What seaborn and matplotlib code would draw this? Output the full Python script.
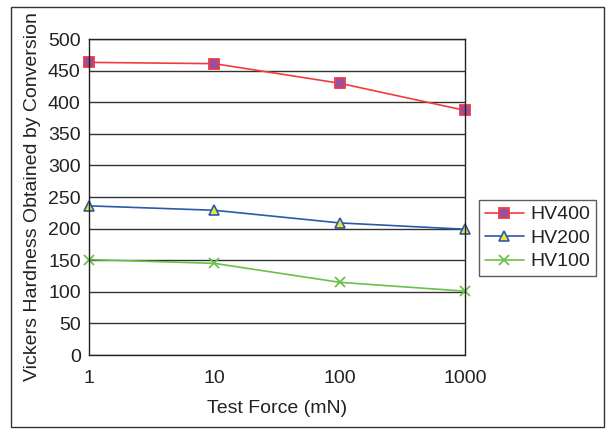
import matplotlib
matplotlib.use("Agg")
import matplotlib.pyplot as plt
import seaborn as sns
import pandas as pd
from matplotlib.patches import Rectangle

forces = [1, 10, 100, 1000]
hv400 = [463, 461, 430, 387]
hv200 = [236, 229, 209, 199]
hv100 = [151, 145, 115, 101]
series_names = ["HV400", "HV200", "HV100"]
yticks = [0, 50, 100, 150, 200, 250, 300, 350, 400, 450, 500]
xtick_labels = ["1", "10", "100", "1000"]

df = pd.DataFrame({
    "force": forces * 3,
    "hv": hv400 + hv200 + hv100,
    "series": [series_names[0]] * 4 + [series_names[1]] * 4 + [series_names[2]] * 4,
})

sns.set_theme(style="white")
plt.rcParams["font.family"] = ["Liberation Sans", "DejaVu Sans"]

fig = plt.figure(figsize=(6.08, 4.34), dpi=100)
ax = fig.add_axes([89 / 608, 79 / 434, 376 / 608, 316 / 434])

styles = {
    "HV400": dict(color="#f03c3c", marker="s", mfc="#9a4f9e", mec="#ee3b48", ms=6.5, mew=1.3),
    "HV200": dict(color="#2b5aa8", marker="^", mfc="#e8e83a", mec="#2b5aa8", ms=7.5, mew=1.2),
    "HV100": dict(color="#6cc04a", marker="x", mfc="#6cc04a", mec="#6cc04a", ms=7, mew=1.3),
}

for name in series_names:
    sub = df[df["series"] == name]
    st = styles[name]
    sns.lineplot(data=sub, x="force", y="hv", ax=ax, color=st["color"], lw=1.2,
                 marker=st["marker"], markerfacecolor=st["mfc"], markeredgecolor=st["mec"],
                 markersize=st["ms"], markeredgewidth=st["mew"], label=name, clip_on=False)

ax.set_xscale("log")
ax.set_xlim(1, 1000)
ax.set_ylim(0, 500)
ax.set_yticks(yticks)
ax.set_yticklabels([str(v) for v in yticks])
ax.set_xticks(forces)
ax.set_xticklabels(xtick_labels)
ax.minorticks_off()
ax.yaxis.grid(True, color="#333333", lw=1.0)
ax.set_axisbelow(True)
for s in ax.spines.values():
    s.set_color("#222222")
    s.set_linewidth(1.0)
ax.tick_params(axis="x", direction="out", length=4, width=0.8, color="#222222", labelsize=14, pad=7, labelcolor="#222222")
ax.tick_params(axis="y", length=0, labelsize=14, pad=6, labelcolor="#222222")
ax.set_xlabel("Test Force (mN)", fontsize=14, color="#222222", labelpad=9)
ax.set_ylabel("Vickers Hardness Obtained by Conversion", fontsize=14, color="#222222", labelpad=5)

leg = ax.legend(loc="upper left", bbox_to_anchor=(479 / 608, (434 - 200) / 434), bbox_transform=fig.transFigure,
                frameon=True, fancybox=False, edgecolor="#333333", fontsize=14, handlelength=2.0,
                borderpad=0.3, labelspacing=0.3, handletextpad=0.35, borderaxespad=0)
leg.get_frame().set_linewidth(1.0)
for t in leg.get_texts():
    t.set_color("#222222")

fig.patches.append(Rectangle((11 / 608, 7 / 434), 593 / 608, 420 / 434, transform=fig.transFigure,
                             fill=False, edgecolor="#333333", lw=1.0))

fig.savefig("out.png", dpi=100)
